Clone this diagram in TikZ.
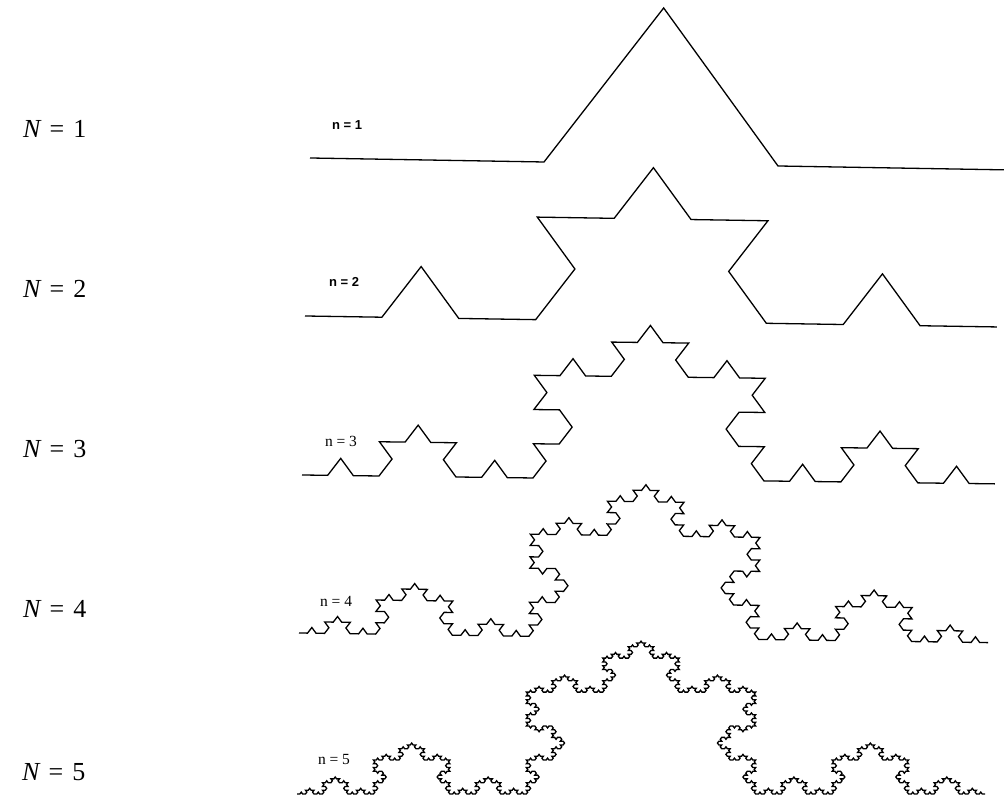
\documentclass[tikz,border=0pt]{standalone}
\usepackage{fontspec}
\setmainfont{Liberation Serif}
\newfontfamily\lblsans{Liberation Sans}
\usetikzlibrary{lindenmayersystems}
\pgfdeclarelindenmayersystem{Koch}{\rule{F -> F+F--F+F}}
\newcommand{\rowlabel}[1]{\textit{N}\hspace{0.3em}=\hspace{0.35em}#1}
\tikzset{
  kochline/.style={line width=1.3pt, line join=miter, black},
  biglabel/.style={anchor=base west, inner sep=0pt, font=\fontsize{26}{28}\selectfont},
  smalllabelA/.style={inner sep=0pt, font=\lblsans\bfseries\fontsize{13}{14}\selectfont},
  smalllabelB/.style={inner sep=0pt, font=\fontsize{15.5}{16}\selectfont}
}
\begin{document}
\begin{tikzpicture}
\useasboundingbox (0,0) rectangle (1004pt,802pt);
\clip (0,0) rectangle (1004pt,802pt);
% row labels
\node[biglabel] (L1) at (23pt,664pt) {\rowlabel{1}};
\node[biglabel] (L2) at (23pt,504pt) {\rowlabel{2}};
\node[biglabel] (L3) at (23pt,344pt) {\rowlabel{3}};
\node[biglabel] (L4) at (23pt,184pt) {\rowlabel{4}};
\node[biglabel] (L5) at (22pt,21pt) {\rowlabel{5}};
% small labels
\node[smalllabelA] (n1) at (347pt,677pt) {n = 1};
\node[smalllabelA] (n2) at (344pt,520pt) {n = 2};
\node[smalllabelB] (n3) at (341pt,361pt) {n = 3};
\node[smalllabelB] (n4) at (336pt,201pt) {n = 4};
\node[smalllabelB] (n5) at (334pt,42pt) {n = 5};
% Koch curves
\begin{scope}[shift={(310pt,644pt)}, rotate=-0.98, yscale=0.77]
  \draw[kochline, l-system={Koch, axiom=F, order=1, step=234.03pt, angle=60}] (0,0) lindenmayer system;
\end{scope}
\begin{scope}[shift={(305pt,486pt)}, rotate=-0.91, yscale=0.77]
  \draw[kochline, l-system={Koch, axiom=F, order=2, step=76.9pt, angle=60}] (0,0) lindenmayer system;
\end{scope}
\begin{scope}[shift={(302pt,327pt)}, rotate=-0.744, yscale=0.77]
  \draw[kochline, l-system={Koch, axiom=F, order=3, step=25.669pt, angle=60}] (0,0) lindenmayer system;
\end{scope}
\begin{scope}[shift={(299pt,169pt)}, rotate=-0.83, yscale=0.77]
  \draw[kochline, l-system={Koch, axiom=F, order=4, step=8.519pt, angle=60}] (0,0) lindenmayer system;
\end{scope}
\begin{scope}[shift={(297pt,8pt)}, rotate=0, yscale=0.77]
  \draw[kochline, l-system={Koch, axiom=F, order=5, step=2.8313pt, angle=60}] (0,0) lindenmayer system;
\end{scope}
\end{tikzpicture}
\end{document}
